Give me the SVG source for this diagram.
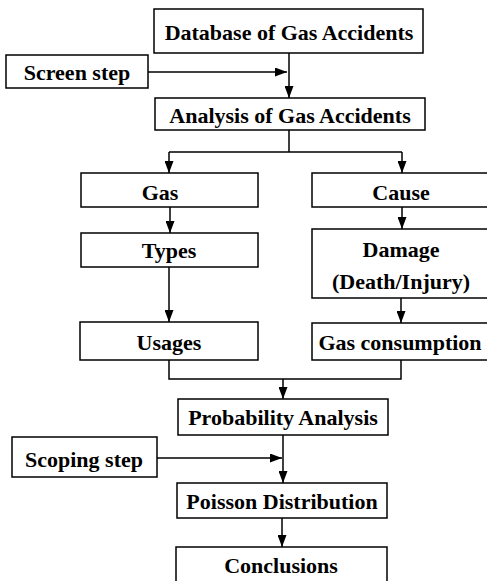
<svg xmlns="http://www.w3.org/2000/svg" width="487" height="581" viewBox="0 0 487 581">
<defs>
<marker id="arr" markerUnits="userSpaceOnUse" markerWidth="12" markerHeight="9" refX="12" refY="4.5" orient="auto">
<path d="M0,0 L12,4.5 L0,9 z" fill="#000"/>
</marker>
<style>
.box{fill:#fff;stroke:#000;stroke-width:1.5}
.t{font-family:"Liberation Serif","Times New Roman",serif;font-weight:bold;font-size:22px;fill:#000;text-anchor:middle}
.c{fill:none;stroke:#000;stroke-width:1.5}
.a{fill:none;stroke:#000;stroke-width:1.5;marker-end:url(#arr)}
</style>
</defs>
<rect width="487" height="581" fill="#fff"/>
<g id="connectors">
<path class="a" d="M289,53 V98"/>
<path class="a" d="M148,72 H287"/>
<path class="c" d="M289,130 V152 M169,152 H402"/>
<path class="a" d="M169,152 V173"/>
<path class="a" d="M402,152 V173"/>
<path class="a" d="M170,207 V233"/>
<path class="a" d="M169,267 V322"/>
<path class="a" d="M402,207 V229"/>
<path class="a" d="M401,298 V323"/>
<path class="c" d="M169,360 V379 H401 V360"/>
<path class="a" d="M283,379 V399"/>
<path class="a" d="M283,435 V483"/>
<path class="a" d="M157,458 H282"/>
<path class="a" d="M282,518 V547"/>
</g>
<g id="database"><rect class="box" x="154" y="9" width="269" height="44"/><text class="t" x="289" y="40">Database of Gas Accidents</text></g>
<g id="screen"><rect class="box" x="6" y="55" width="142" height="33"/><text class="t" x="77" y="80">Screen step</text></g>
<g id="analysis"><rect class="box" x="155" y="98" width="270" height="32"/><text class="t" x="290" y="123">Analysis of Gas Accidents</text></g>
<g id="gas"><rect class="box" x="81" y="173" width="177" height="34"/><text class="t" x="160" y="200">Gas</text></g>
<g id="cause"><rect class="box" x="312" y="173" width="178" height="34"/><text class="t" x="401" y="200">Cause</text></g>
<g id="types"><rect class="box" x="81" y="233" width="177" height="34"/><text class="t" x="169" y="258">Types</text></g>
<g id="damage"><rect class="box" x="312" y="229" width="178" height="69"/><text class="t" x="401" y="257">Damage</text><text class="t" x="401" y="289">(Death/Injury)</text></g>
<g id="usages"><rect class="box" x="80" y="322" width="178" height="38"/><text class="t" x="169" y="350">Usages</text></g>
<g id="consumption"><rect class="box" x="312" y="323" width="178" height="37"/><text class="t" x="400" y="350">Gas consumption</text></g>
<g id="probability"><rect class="box" x="178" y="399" width="210" height="36"/><text class="t" x="283" y="425">Probability Analysis</text></g>
<g id="scoping"><rect class="box" x="12" y="437" width="145" height="40"/><text class="t" x="84" y="467">Scoping step</text></g>
<g id="poisson"><rect class="box" x="177" y="483" width="210" height="35"/><text class="t" x="282" y="509">Poisson Distribution</text></g>
<g id="conclusions"><rect class="box" x="176" y="547" width="211" height="40"/><text class="t" x="281" y="573">Conclusions</text></g>
</svg>
